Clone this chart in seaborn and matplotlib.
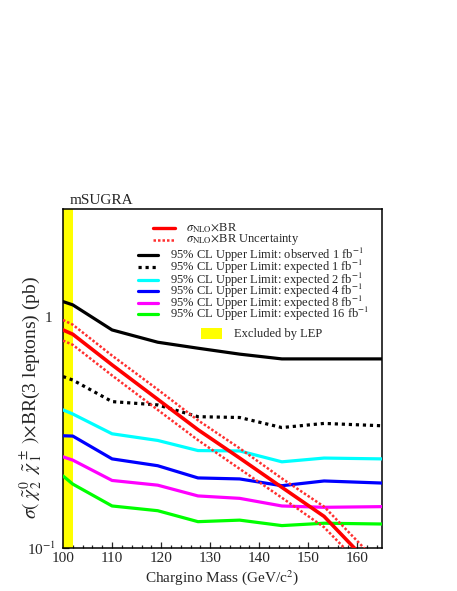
import numpy as np
import pandas as pd
import matplotlib
matplotlib.use("Agg")
import matplotlib.pyplot as plt
import seaborn as sns
from matplotlib.ticker import MultipleLocator, LogLocator, FuncFormatter, NullFormatter
from matplotlib.lines import Line2D
from matplotlib.patches import Rectangle

# ---------------- data ----------------
mass = [100, 102, 110, 119.3, 127.5, 136, 144.6, 153.2, 165]
sigma_br = [0.878, 0.841, 0.62, 0.44, 0.325, 0.245, 0.183, 0.137, 0.075]
sigma_up = [0.97, 0.925, 0.68, 0.485, 0.357, 0.27, 0.20, 0.151, 0.083]
sigma_down = [0.79, 0.757, 0.558, 0.396, 0.293, 0.22, 0.165, 0.123, 0.068]
obs_1fb = [1.165, 1.127, 0.878, 0.777, 0.732, 0.69, 0.658, 0.658, 0.658]
exp_1fb = [0.552, 0.533, 0.43, 0.416, 0.37, 0.367, 0.332, 0.346, 0.338]
exp_2fb = [0.396, 0.380, 0.312, 0.292, 0.264, 0.263, 0.236, 0.245, 0.243]
exp_4fb = [0.306, 0.305, 0.243, 0.227, 0.201, 0.199, 0.186, 0.195, 0.191]
exp_8fb = [0.248, 0.240, 0.196, 0.187, 0.168, 0.164, 0.152, 0.150, 0.151]
exp_16fb = [0.205, 0.189, 0.152, 0.145, 0.130, 0.132, 0.125, 0.128, 0.127]
lep_excluded = [100, 102]

legend_labels = [
    r"$\sigma_{\rm NLO}$$\times$BR",
    r"$\sigma_{\rm NLO}$$\times$BR Uncertainty",
    r"95% CL Upper Limit: observed 1 fb$^{-1}$",
    r"95% CL Upper Limit: expected 1 fb$^{-1}$",
    r"95% CL Upper Limit: expected 2 fb$^{-1}$",
    r"95% CL Upper Limit: expected 4 fb$^{-1}$",
    r"95% CL Upper Limit: expected 8 fb$^{-1}$",
    r"95% CL Upper Limit: expected 16 fb$^{-1}$",
    "Excluded by LEP",
]

# ---------------- style ----------------
sns.set_style("ticks")
plt.rcParams["font.family"] = ["Liberation Serif", "DejaVu Serif"]
plt.rcParams["mathtext.fontset"] = "stix"

W, H = 457, 591
fig = plt.figure(figsize=(W / 100, H / 100), dpi=100)
ax = fig.add_axes([63 / W, (H - 548) / H, 319 / W, 339 / H])

def fx(px):
    return px / W

def fy(py):
    return 1 - py / H

# LEP exclusion band
ax.axvspan(lep_excluded[0], lep_excluded[1], color="#ffff00", lw=0, zorder=1)

series = [
    (obs_1fb, "#000000", "-"),
    (exp_1fb, "#000000", (0, (1, 1.2))),
    (exp_2fb, "#00ffff", "-"),
    (exp_4fb, "#0000ff", "-"),
    (exp_8fb, "#ff00ff", "-"),
    (exp_16fb, "#00ff00", "-"),
]
for vals, col, ls in series:
    df = pd.DataFrame({"mass": mass, "xs": vals})
    sns.lineplot(data=df, x="mass", y="xs", ax=ax, color=col, lw=2.3,
                 linestyle=ls, zorder=3, estimator=None, sort=False)

for vals in (sigma_up, sigma_down):
    df = pd.DataFrame({"mass": mass, "xs": vals})
    sns.lineplot(data=df, x="mass", y="xs", ax=ax, color="#ff3030", lw=1.8,
                 linestyle=(0, (1, 0.8)), zorder=4, estimator=None, sort=False)
df = pd.DataFrame({"mass": mass, "xs": sigma_br})
sns.lineplot(data=df, x="mass", y="xs", ax=ax, color="#ff0000", lw=2.6,
             zorder=5, estimator=None, sort=False)

ax.set_yscale("log")
ax.set_xlim(100, 165)
ax.set_ylim(0.1, 2.93)

ax.xaxis.set_major_locator(MultipleLocator(10))
ax.xaxis.set_minor_locator(MultipleLocator(2))
ax.yaxis.set_major_locator(LogLocator(base=10, subs=[1.0]))
ax.yaxis.set_minor_locator(LogLocator(base=10, subs=np.arange(2, 10)))
ax.yaxis.set_minor_formatter(NullFormatter())

def yfmt(v, pos):
    if abs(v - 1) < 1e-9:
        return "1 "
    if abs(v - 0.1) < 1e-9:
        return r"10$^{-1}$"
    return ""
ax.yaxis.set_major_formatter(FuncFormatter(yfmt))

ax.tick_params(axis="both", which="major", direction="in", length=4.5, width=0.9,
               labelsize=11, pad=3, top=False, right=False)
ax.tick_params(axis="both", which="minor", direction="in", length=2.5, width=0.9,
               top=False, right=False)
ax.tick_params(axis="y", which="major", pad=5)
for s in ax.spines.values():
    s.set_linewidth(1.1)
    s.set_color("black")
    s.set_visible(True)

ax.set_xlabel(r"Chargino Mass (GeV/c$^{2}$)", fontsize=11, labelpad=2)
ax.set_ylabel(r"$\sigma(\;\tilde{\chi}^{\,0}_{\,2}\;\;\tilde{\chi}^{\,\pm}_{\,1}\;)$$\times$BR(3 leptons) (pb)",
              fontsize=14, va="center")
ax.yaxis.set_label_coords(-0.1, 0.445)

fig.text(fx(70), fy(200), "mSUGRA", fontsize=11, ha="left", va="center")

# ---------------- legend ----------------
leg_font = 9
# sigma entries
fig.add_artist(Line2D([fx(153), fx(175)], [fy(228), fy(228)], color="#ff0000", lw=2.4))
fig.add_artist(Line2D([fx(153), fx(175)], [fy(239.5), fy(239.5)], color="#ff3030", lw=1.8,
                      linestyle=(0, (1, 0.8))))
fig.text(fx(186), fy(228), legend_labels[0], fontsize=leg_font, va="center", ha="left")
fig.text(fx(186), fy(239.5), legend_labels[1], fontsize=leg_font, va="center", ha="left")

rows_y = [255, 266.5, 280, 291, 302.7, 314]
for (vals, col, ls), yy, lab in zip(series, rows_y, legend_labels[2:8]):
    fig.add_artist(Line2D([fx(138), fx(158)], [fy(yy), fy(yy)], color=col, lw=2.3, linestyle=ls))
    fig.text(fx(170), fy(yy), lab, fontsize=leg_font, va="center", ha="left")

fig.add_artist(Rectangle((fx(201), fy(339)), fx(222) - fx(201), fy(328) - fy(339),
                         transform=fig.transFigure, facecolor="#ffff00", edgecolor="none"))
fig.text(fx(234), fy(334), legend_labels[8], fontsize=leg_font, va="center", ha="left")

fig.savefig("out.png", dpi=100)
